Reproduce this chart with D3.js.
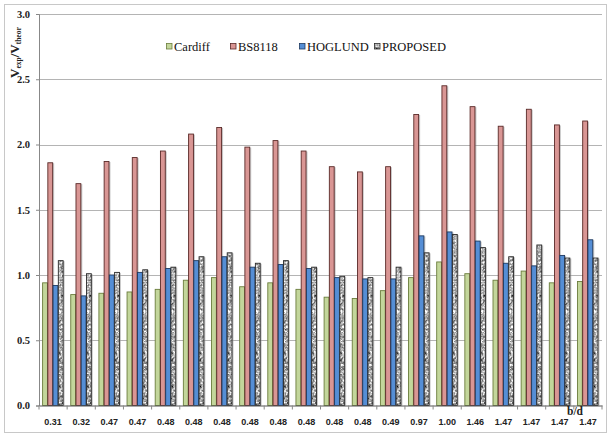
<!DOCTYPE html>
<html>
<head>
<meta charset="utf-8">
<script src="https://cdn.jsdelivr.net/npm/d3@7"></script>
<style>
  html, body { margin: 0; padding: 0; background: #fff; }
  svg { display: block; }
</style>
</head>
<body>
<svg id="chart" width="611" height="435"></svg>
<script>
// Ratio of experimental to theoretical capacity for each specimen, by b/d
const bdLabels = ["0.31","0.32","0.47","0.47","0.48","0.48","0.48","0.48","0.48","0.48",
                  "0.48","0.48","0.49","0.97","1.00","1.46","1.47","1.47","1.47","1.47"];
const seriesNames = ["Cardiff", "BS8118", "HOGLUND", "PROPOSED"];
const cardiff  = [0.94,0.85,0.86,0.87,0.89,0.96,0.98,0.91,0.94,0.89,0.83,0.82,0.88,0.98,1.10,1.01,0.96,1.03,0.94,0.95];
const bs8118   = [1.86,1.70,1.87,1.90,1.95,2.08,2.13,1.98,2.03,1.95,1.83,1.79,1.83,2.23,2.45,2.29,2.14,2.27,2.15,2.18];
const hoglund  = [0.92,0.84,1.00,1.02,1.05,1.11,1.14,1.06,1.08,1.05,0.98,0.97,0.97,1.30,1.33,1.26,1.09,1.07,1.15,1.27];
const proposed = [1.11,1.01,1.02,1.04,1.06,1.14,1.17,1.09,1.11,1.06,0.99,0.98,1.06,1.17,1.31,1.21,1.14,1.23,1.13,1.13];
const yTicks = [0, 0.5, 1.0, 1.5, 2.0, 2.5, 3.0];

const seriesValues = [cardiff, bs8118, hoglund, proposed];
const fills   = ["#c3d69b", "#d99694", "#558ed5", "#a9a9a9"];
const strokes = ["#6b7d3c", "#5a2a28", "#1f3a60", "#2b2b2b"];
const textured = [false, false, false, true];

const svg = d3.select("#chart");
const plotLeft = 39, plotRight = 602, plotTop = 14, plotBottom = 405.5;

// Outer chart frame
svg.append("rect")
  .attr("x", 4.5).attr("y", 4.5).attr("width", 602).attr("height", 428)
  .attr("fill", "#fff").attr("stroke", "#c8c8c8").attr("stroke-width", 1);

// Granite-like texture filter for the PROPOSED bars
const defs = svg.append("defs");
const nf = defs.append("filter").attr("id", "granite")
  .attr("color-interpolation-filters", "sRGB")
  .attr("x", "-10%").attr("y", "-1%").attr("width", "120%").attr("height", "102%");
nf.append("feTurbulence").attr("type", "fractalNoise")
  .attr("baseFrequency", 0.45).attr("numOctaves", 4).attr("seed", 7).attr("result", "t");
nf.append("feColorMatrix").attr("in", "t").attr("type", "matrix")
  .attr("values", "0.33 0.33 0.33 0 0  0.33 0.33 0.33 0 0  0.33 0.33 0.33 0 0  0 0 0 0 1")
  .attr("result", "g");
nf.append("feComponentTransfer").attr("in", "g").attr("result", "c")
  .call(s => {
    ["feFuncR", "feFuncG", "feFuncB"].forEach(k =>
      s.append(k).attr("type", "linear").attr("slope", 2.3).attr("intercept", -0.45));
  });
nf.append("feComposite").attr("in", "c").attr("in2", "SourceGraphic").attr("operator", "in");

// Scales
const x0 = d3.scaleBand().domain(d3.range(bdLabels.length)).range([plotLeft, plotRight]);
const x1 = d3.scaleBand().domain(d3.range(seriesNames.length))
  .range([3.6, x0.bandwidth() - 3.6]);
const y = d3.scaleLinear().domain([0, 3]).range([plotBottom, plotTop]);

// Horizontal gridlines
svg.append("g").selectAll("line").data(yTicks.filter(t => t > 0)).join("line")
  .attr("x1", plotLeft).attr("x2", plotRight)
  .attr("y1", d => Math.round(y(d)) + 0.5).attr("y2", d => Math.round(y(d)) + 0.5)
  .attr("stroke", "#b4b4b4").attr("stroke-width", 1);

// Bars
const groups = svg.append("g").selectAll("g").data(bdLabels).join("g")
  .attr("transform", (d, i) => `translate(${x0(i)},0)`);

seriesNames.forEach((name, s) => {
  const vals = seriesValues[s];
  const bw = x1.bandwidth() - 0.4;
  // soft drop shadow
  groups.append("rect")
    .attr("x", (d, i) => x1(s) + 1.5)
    .attr("y", (d, i) => y(vals[i]) + 0.5)
    .attr("width", bw)
    .attr("height", (d, i) => plotBottom - y(vals[i]) - 0.5)
    .attr("fill", "#9a9a9a").attr("opacity", 0.55);
  // fill
  const fillRects = groups.append("rect")
    .attr("x", (d, i) => x1(s))
    .attr("y", (d, i) => y(vals[i]))
    .attr("width", bw)
    .attr("height", (d, i) => plotBottom - y(vals[i]))
    .attr("fill", fills[s]);
  if (textured[s]) fillRects.attr("filter", "url(#granite)");
  // outline
  groups.append("rect")
    .attr("x", (d, i) => x1(s))
    .attr("y", (d, i) => y(vals[i]))
    .attr("width", bw)
    .attr("height", (d, i) => plotBottom - y(vals[i]))
    .attr("fill", "none")
    .attr("stroke", strokes[s]).attr("stroke-width", 0.9);
});

// Y axis
const yAxis = svg.append("g").attr("transform", `translate(${plotLeft},0)`)
  .call(d3.axisLeft(y).tickValues(yTicks).tickFormat(d3.format(".1f"))
    .tickSize(3).tickPadding(6));
yAxis.select(".domain").attr("stroke", "#888");
yAxis.selectAll(".tick line").attr("stroke", "#888");
yAxis.selectAll("text")
  .attr("font-family", "'Liberation Serif', 'Times New Roman', serif")
  .attr("font-weight", "bold").attr("font-size", 10.5).attr("fill", "#222");

// X axis
const xAxis = svg.append("g").attr("transform", `translate(0,${plotBottom})`)
  .call(d3.axisBottom(x0).tickFormat(i => bdLabels[i]).tickSize(0).tickPadding(13));
xAxis.select(".domain").attr("stroke", "#555");
xAxis.selectAll("text")
  .attr("font-family", "'Liberation Sans', Arial, sans-serif")
  .attr("font-weight", "bold").attr("font-size", 9).attr("fill", "#222");
// category boundary ticks
svg.append("g").selectAll("line").data(d3.range(bdLabels.length + 1)).join("line")
  .attr("x1", i => i < bdLabels.length ? x0(i) : plotRight)
  .attr("x2", i => i < bdLabels.length ? x0(i) : plotRight)
  .attr("y1", plotBottom).attr("y2", plotBottom + 4)
  .attr("stroke", "#888");

// Axis titles
svg.append("text")
  .attr("x", 567).attr("y", 415)
  .attr("font-family", "'Liberation Serif', 'Times New Roman', serif")
  .attr("font-weight", "bold").attr("font-size", 11.5).attr("fill", "#222")
  .text("b/d");

const yt = svg.append("text")
  .attr("transform", "translate(19,78) rotate(-90)")
  .attr("font-family", "'Liberation Serif', 'Times New Roman', serif")
  .attr("font-weight", "bold").attr("fill", "#222");
yt.append("tspan").attr("font-size", 13).text("V");
yt.append("tspan").attr("font-size", 7.5).attr("dy", 2).text("exp");
yt.append("tspan").attr("font-size", 13).attr("dy", -2).text("/V");
yt.append("tspan").attr("font-size", 7.5).attr("dy", 2).text("theor");

// Legend
const legendX = [166, 230, 299, 374];
const legend = svg.append("g").selectAll("g").data(seriesNames).join("g")
  .attr("transform", (d, i) => `translate(${legendX[i]},43)`);
legend.append("rect")
  .attr("x", 0.5).attr("y", 0.5).attr("width", 5.5).attr("height", 5.5)
  .attr("fill", (d, i) => fills[i])
  .attr("filter", (d, i) => textured[i] ? "url(#granite)" : null);
legend.append("rect")
  .attr("x", 0.5).attr("y", 0.5).attr("width", 5.5).attr("height", 5.5)
  .attr("fill", "none").attr("stroke", (d, i) => strokes[i]).attr("stroke-width", 0.8);
legend.append("text")
  .attr("x", 8).attr("y", 7.6)
  .attr("font-family", "'Liberation Serif', 'Times New Roman', serif")
  .attr("font-size", 12.5).attr("fill", "#111")
  .text(d => d);
</script>
</body>
</html>
